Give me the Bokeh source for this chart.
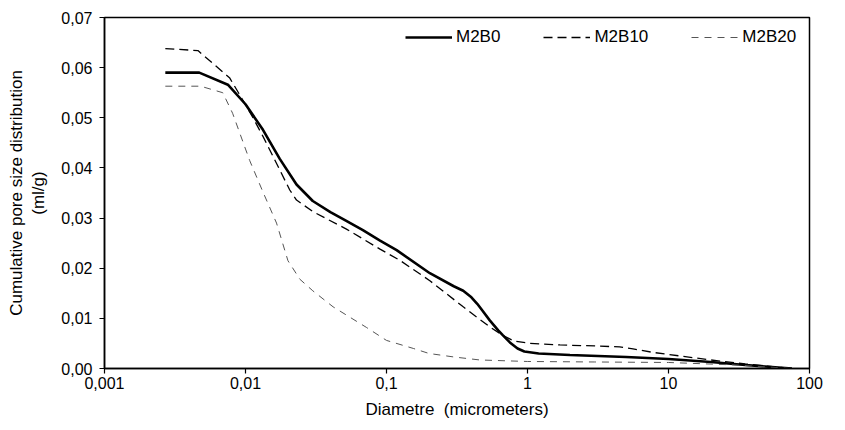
from bokeh.plotting import figure
from bokeh.models import Legend, LegendItem, FixedTicker, CustomJSTickFormatter, Range1d
from bokeh.embed import file_html
from bokeh.resources import INLINE

# Data (diameter in micrometers, cumulative volume in ml/g)
m2b0_x = [0.0027, 0.0047, 0.0075, 0.0100, 0.0133, 0.0175, 0.0230, 0.0300, 0.0400, 0.0500,
          0.0680, 0.0900, 0.1180, 0.2030, 0.3000, 0.3500, 0.4000, 0.4400, 0.4800, 0.5400, 0.6200,
          0.6700, 0.7500, 0.8500, 0.9500, 1.2000, 2.0, 5.0, 10.0, 20.0, 35.0, 75.0]
m2b0_y = [0.0590, 0.0590, 0.0566, 0.0527, 0.0476, 0.0418, 0.0367, 0.0334, 0.0312, 0.0297,
          0.0276, 0.0255, 0.0236, 0.0190, 0.0164, 0.0155, 0.0142, 0.0129, 0.0115, 0.0096, 0.0076,
          0.0066, 0.0052, 0.0040, 0.0034, 0.0030, 0.0027, 0.0023, 0.0019, 0.0013, 0.0007, 0.0000]

m2b10_x = [0.0027, 0.0046, 0.0077, 0.0090, 0.0113, 0.0133, 0.0175, 0.0206, 0.0230, 0.0300,
           0.0520, 0.0900, 0.1240, 0.2030, 0.3500, 0.5400, 0.6700, 0.8000, 1.0400, 1.7000,
           3.0, 4.5, 5.6, 7.8, 10.0, 20.0, 35.0, 75.0]
m2b10_y = [0.0638, 0.0634, 0.0580, 0.0548, 0.0500, 0.0463, 0.0396, 0.0356, 0.0336, 0.0313,
           0.0278, 0.0238, 0.0216, 0.0175, 0.0123, 0.0083, 0.0066, 0.0055, 0.0050, 0.0047,
           0.0045, 0.0043, 0.0039, 0.0032, 0.0028, 0.0017, 0.0009, 0.0000]

m2b20_x = [0.0027, 0.0048, 0.0069, 0.0081, 0.0107, 0.0133, 0.0166, 0.0200, 0.0243, 0.0300,
           0.0418, 0.0720, 0.1000, 0.1550, 0.2000, 0.3000, 0.4600, 1.0, 3.0, 10.0, 30.0, 75.0]
m2b20_y = [0.0563, 0.0563, 0.0550, 0.0509, 0.0415, 0.0352, 0.0290, 0.0215, 0.0178, 0.0155,
           0.0123, 0.0082, 0.0056, 0.0040, 0.0030, 0.0023, 0.0017, 0.0014, 0.0013, 0.0012,
           0.0007, 0.0000]

series_names = ["M2B0", "M2B10", "M2B20"]
x_ticks = [0.001, 0.01, 0.1, 1, 10, 100]
y_ticks = [0.0, 0.01, 0.02, 0.03, 0.04, 0.05, 0.06, 0.07]

FONT = "Liberation Sans"

p = figure(width=840, height=428, x_axis_type="log",
           x_range=Range1d(0.001, 100), y_range=Range1d(0, 0.07),
           output_backend="svg", toolbar_location=None,
           min_border_left=104, min_border_right=31, min_border_top=17, min_border_bottom=60)

p.xgrid.visible = False
p.ygrid.visible = False
p.outline_line_color = "black"
p.outline_line_width = 1.5
p.background_fill_color = "white"
p.border_fill_color = "white"

r0 = p.line(m2b0_x, m2b0_y, line_color="black", line_width=2.6)
r1 = p.line(m2b10_x, m2b10_y, line_color="black", line_width=1.3, line_dash="9 5")
r2 = p.line(m2b20_x, m2b20_y, line_color="#555555", line_width=1.0, line_dash="7 6")

for ax in (p.xaxis[0], p.yaxis[0]):
    ax.axis_line_color = "black"
    ax.axis_line_width = 1.5
    ax.major_tick_line_color = "black"
    ax.major_tick_line_width = 1.2
    ax.major_tick_in = 0
    ax.major_tick_out = 5
    ax.minor_tick_line_color = None
    ax.major_label_text_font = FONT
    ax.major_label_text_font_size = "16px"
    ax.major_label_text_color = "black"
    ax.axis_label_text_font = FONT
    ax.axis_label_text_font_size = "17px"
    ax.axis_label_text_font_style = "normal"
    ax.axis_label_text_color = "black"

p.xaxis.ticker = FixedTicker(ticks=x_ticks)
p.yaxis.ticker = FixedTicker(ticks=y_ticks)
p.xaxis.formatter = CustomJSTickFormatter(code="""
    var s = tick >= 1 ? tick.toFixed(0) : Number(tick).toString();
    return s.replace('.', ',');
""")
p.yaxis.formatter = CustomJSTickFormatter(code="return tick.toFixed(2).replace('.', ',');")
p.xaxis.major_label_standoff = 3
p.yaxis.major_label_standoff = 7
p.xaxis.axis_label = "Diametre\u00a0\u00a0(micrometers)"
p.yaxis.axis_label = "Cumulative pore size distribution\n(ml/g)"
p.xaxis.axis_label_standoff = 8
p.yaxis.axis_label_standoff = 10

legend = Legend(items=[LegendItem(label=series_names[0], renderers=[r0]),
                       LegendItem(label=series_names[1], renderers=[r1]),
                       LegendItem(label=series_names[2], renderers=[r2])],
                orientation="horizontal", location=(301, 321),
                glyph_width=47, label_standoff=4, spacing=43, padding=0, margin=0,
                border_line_color=None, background_fill_alpha=0,
                label_text_font=FONT, label_text_font_size="17px", label_text_color="black")
p.add_layout(legend)

open("out.html", "w").write(file_html(p, INLINE))
